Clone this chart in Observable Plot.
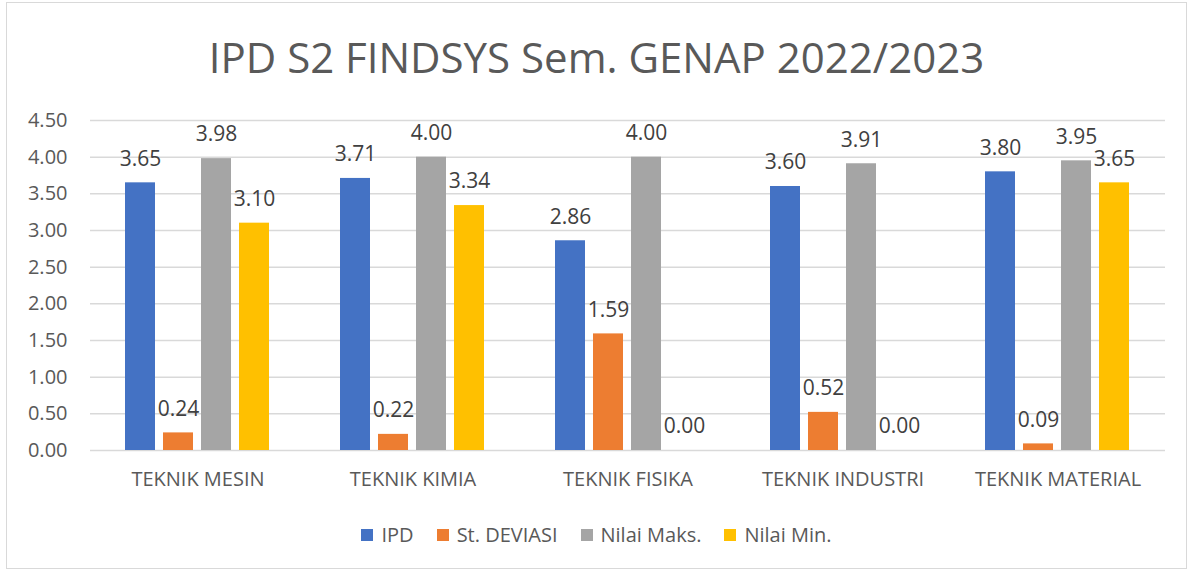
<!DOCTYPE html>
<html>
<head>
<meta charset="utf-8">
<script src="https://cdn.jsdelivr.net/npm/d3@7"></script>
<script src="https://cdn.jsdelivr.net/npm/@observablehq/plot@0.6"></script>
<style>
  html, body { margin: 0; padding: 0; background: #fff; }
  body { width: 1193px; height: 573px; position: relative; overflow: hidden; font-family: "Open Sans", sans-serif; }
  #frame { position: absolute; left: 6px; top: 2px; width: 1181px; height: 567px; border: 1.5px solid #d9d9d9; box-sizing: border-box; }
  #title { position: absolute; left: 0; top: 27px; width: 1193px; text-align: center; font-size: 42px; color: #595959; line-height: 60px; }
  #chart { position: absolute; left: 0; top: 100px; }
  #legend { position: absolute; left: 0; top: 521px; width: 1193px; display: flex; justify-content: center; gap: 23px; font-size: 20px; color: #595959; line-height: 28px; }
  .item { display: flex; align-items: center; gap: 8px; }
  .sw { width: 12px; height: 12px; display: inline-block; }
</style>
</head>
<body>
<div id="frame"></div>
<div id="title">IPD S2 FINDSYS Sem. GENAP 2022/2023</div>
<div id="chart"></div>
<div id="legend"></div>
<script>
const categories = ["TEKNIK MESIN", "TEKNIK KIMIA", "TEKNIK FISIKA", "TEKNIK INDUSTRI", "TEKNIK MATERIAL"];
const seriesNames = ["IPD", "St. DEVIASI", "Nilai Maks.", "Nilai Min."];
const ipd = [3.65, 3.71, 2.86, 3.60, 3.80];
const stDeviasi = [0.24, 0.22, 1.59, 0.52, 0.09];
const nilaiMaks = [3.98, 4.00, 4.00, 3.91, 3.95];
const nilaiMin = [3.10, 3.34, 0.00, 0.00, 3.65];
const colors = ["#4472C4", "#ED7D31", "#A5A5A5", "#FFC000"];
const yTicks = [0, 0.5, 1, 1.5, 2, 2.5, 3, 3.5, 4, 4.5];

const seriesValues = [ipd, stDeviasi, nilaiMaks, nilaiMin];
const data = [];
categories.forEach((c, i) => {
  seriesNames.forEach((s, j) => {
    data.push({category: c, series: s, value: seriesValues[j][i]});
  });
});

const chart = Plot.plot({
  width: 1193,
  height: 400,
  marginLeft: 90,
  marginRight: 28,
  marginTop: 20,
  marginBottom: 50,
  style: {fontFamily: "Open Sans, sans-serif", background: "transparent"},
  fx: {domain: categories, padding: 0, label: null, axis: null},
  x: {domain: seriesNames, axis: null, paddingInner: 0.205, paddingOuter: 0.86},
  y: {domain: [0, 4.5], axis: null},
  color: {domain: seriesNames, range: colors},
  marks: [
    Plot.ruleY(yTicks, {stroke: "#d9d9d9", strokeWidth: 1.5}),
    Plot.axisY({ticks: yTicks, tickFormat: d3.format(".2f"), tickSize: 0, tickPadding: 23, label: null, fontSize: 20, fill: "#595959", facetAnchor: "left"}),
    Plot.axisFx({anchor: "bottom", tickSize: 0, tickPadding: 21, label: null, fontSize: 20, fill: "#595959"}),
    Plot.barY(data, {fx: "category", x: "series", y: "value", fill: "series"}),
    Plot.text(data, {fx: "category", x: "series", y: "value", text: d => d.value.toFixed(2), dy: -24, lineAnchor: "middle", fontSize: 21, fill: "#404040"})
  ]
});
document.getElementById("chart").appendChild(chart);

const legend = document.getElementById("legend");
seriesNames.forEach((s, i) => {
  const item = document.createElement("div");
  item.className = "item";
  const sw = document.createElement("span");
  sw.className = "sw";
  sw.style.background = colors[i];
  const t = document.createElement("span");
  t.textContent = s;
  item.appendChild(sw);
  item.appendChild(t);
  legend.appendChild(item);
});
</script>
</body>
</html>
